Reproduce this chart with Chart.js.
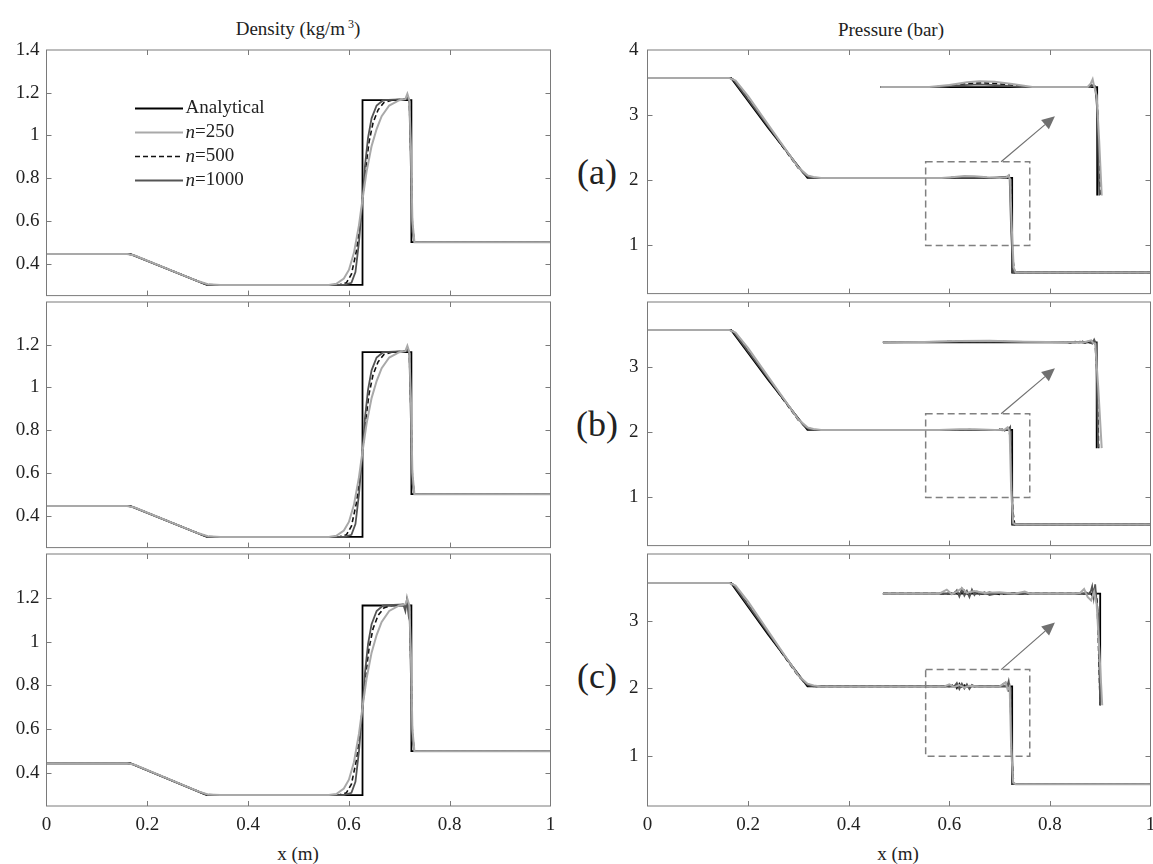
<!DOCTYPE html>
<html>
<head>
<meta charset="utf-8">
<script src="https://cdn.jsdelivr.net/npm/chart.js@4.4.0/dist/chart.umd.min.js"></script>
<style>
  body { margin: 0; background: #fff; width: 1153px; height: 864px; position: relative; overflow: hidden; font-family: "Liberation Serif", "Times New Roman", Times, "DejaVu Serif", serif; color: #222; }
  canvas { position: absolute; }
  .txt { position: absolute; transform: translate(-50%, -50%); white-space: nowrap; font-size: 19px; line-height: 1; }
  .tag { position: absolute; transform: translate(-50%, -50%); font-size: 36px; line-height: 1; }
</style>
</head>
<body>
<div class="txt" style="left:298px;top:28px">Density (kg/m<sup style="font-size:12px"> 3</sup>)</div>
<div class="txt" style="left:891px;top:29px">Pressure (bar)</div>
<div class="tag" style="left:597px;top:172px">(a)</div>
<div class="tag" style="left:597px;top:424px">(b)</div>
<div class="tag" style="left:597px;top:676px">(c)</div>
<div class="txt" style="left:298px;top:853px">x (m)</div>
<div class="txt" style="left:898px;top:853px">x (m)</div>

<canvas id="dA"></canvas>
<canvas id="dB"></canvas>
<canvas id="dC"></canvas>
<canvas id="pA"></canvas>
<canvas id="pB"></canvas>
<canvas id="pC"></canvas>

<script>
// ---- ticks ----
const xTicks = [0, 0.2, 0.4, 0.6, 0.8, 1];
const densTicks = [0.4, 0.6, 0.8, 1, 1.2, 1.4];
const presTicks = [1, 2, 3, 4];
const seriesNames = ['Analytical', 'n=250', 'n=500', 'n=1000'];

// ---- density (kg/m3) ----
const dAnX = [0, 0.166, 0.318, 0.627, 0.627, 0.724, 0.724, 1];
const dAnY = [0.445, 0.445, 0.30, 0.30, 1.165, 1.165, 0.5, 0.5];

const dN250X = [0, 0.16, 0.175, 0.30, 0.32, 0.345, 0.56, 0.575, 0.59, 0.60, 0.61, 0.62, 0.627, 0.635, 0.645, 0.655, 0.665, 0.68, 0.70, 0.712, 0.716, 0.72, 0.723, 0.726, 0.73, 1];
const dN250Y = [0.445, 0.445, 0.438, 0.318, 0.303, 0.30, 0.30, 0.305, 0.33, 0.37, 0.45, 0.58, 0.70, 0.83, 0.95, 1.03, 1.09, 1.14, 1.165, 1.17, 1.195, 1.165, 0.95, 0.6, 0.5, 0.5];
const dN500X = [0, 0.16, 0.172, 0.305, 0.32, 0.34, 0.58, 0.595, 0.605, 0.615, 0.622, 0.627, 0.633, 0.64, 0.648, 0.658, 0.67, 0.685, 0.712, 0.716, 0.72, 0.723, 0.726, 0.73, 1];
const dN500Y = [0.445, 0.445, 0.44, 0.313, 0.302, 0.30, 0.30, 0.31, 0.35, 0.46, 0.58, 0.70, 0.84, 0.97, 1.06, 1.12, 1.155, 1.165, 1.17, 1.185, 1.16, 0.9, 0.58, 0.5, 0.5];
const dN1000X = [0, 0.163, 0.17, 0.31, 0.32, 0.335, 0.59, 0.605, 0.613, 0.62, 0.627, 0.632, 0.638, 0.645, 0.655, 0.668, 0.712, 0.716, 0.72, 0.723, 0.726, 0.73, 1];
const dN1000Y = [0.445, 0.445, 0.441, 0.308, 0.301, 0.30, 0.30, 0.31, 0.36, 0.50, 0.70, 0.86, 0.99, 1.08, 1.14, 1.165, 1.17, 1.18, 1.16, 0.85, 0.55, 0.5, 0.5];
// panel (c) n=1000 is noisier near the shock
const dN1000cX = [0, 0.163, 0.17, 0.31, 0.32, 0.335, 0.59, 0.605, 0.613, 0.62, 0.627, 0.632, 0.638, 0.645, 0.655, 0.668, 0.708, 0.712, 0.715, 0.718, 0.72, 0.723, 0.726, 0.73, 1];
const dN1000cY = [0.445, 0.445, 0.441, 0.308, 0.301, 0.30, 0.30, 0.31, 0.36, 0.50, 0.70, 0.86, 0.99, 1.08, 1.14, 1.165, 1.17, 1.14, 1.19, 1.13, 1.17, 0.85, 0.55, 0.5, 0.5];

// ---- pressure (bar) ----
const pAnX = [0, 0.166, 0.24, 0.318, 0.725, 0.725, 1];
const pAnY = [3.57, 3.57, 2.80, 2.03, 2.03, 0.575, 0.575];

const pN250aX = [0, 0.162, 0.175, 0.20, 0.30, 0.318, 0.33, 0.345, 0.585, 0.61, 0.63, 0.65, 0.675, 0.70, 0.714, 0.718, 0.721, 0.724, 0.728, 0.732, 1];
const pN250aY = [3.57, 3.57, 3.53, 3.29, 2.19, 2.07, 2.045, 2.03, 2.03, 2.045, 2.06, 2.055, 2.04, 2.03, 2.04, 2.07, 2.0, 1.3, 0.65, 0.575, 0.575];
const pN500aX = [0, 0.163, 0.172, 0.30, 0.318, 0.335, 0.59, 0.615, 0.635, 0.655, 0.68, 0.715, 0.719, 0.722, 0.726, 0.73, 1];
const pN500aY = [3.57, 3.57, 3.54, 2.18, 2.06, 2.03, 2.03, 2.04, 2.05, 2.045, 2.03, 2.03, 2.06, 1.9, 0.8, 0.575, 0.575];
const pN1000aX = [0, 0.164, 0.17, 0.31, 0.32, 0.33, 0.6, 0.62, 0.64, 0.66, 0.68, 0.717, 0.72, 0.723, 0.727, 1];
const pN1000aY = [3.57, 3.57, 3.55, 2.1, 2.045, 2.03, 2.03, 2.038, 2.042, 2.037, 2.03, 2.05, 2.02, 1.2, 0.575, 0.575];

const pN250bX = [0, 0.162, 0.175, 0.20, 0.30, 0.318, 0.33, 0.345, 0.58, 0.62, 0.65, 0.69, 0.71, 0.716, 0.72, 0.723, 0.727, 0.732, 1];
const pN250bY = [3.57, 3.57, 3.53, 3.29, 2.19, 2.07, 2.045, 2.03, 2.03, 2.04, 2.04, 2.03, 2.035, 2.07, 2.0, 1.1, 0.6, 0.575, 0.575];
const pN500bX = [0, 0.163, 0.172, 0.30, 0.318, 0.335, 0.6, 0.64, 0.69, 0.70, 0.705, 0.71, 0.715, 0.719, 0.722, 0.726, 0.73, 1];
const pN500bY = [3.57, 3.57, 3.54, 2.18, 2.06, 2.03, 2.03, 2.035, 2.03, 2.04, 2.025, 2.04, 2.03, 2.06, 1.8, 0.8, 0.575, 0.575];
const pN1000bX = [0, 0.164, 0.17, 0.31, 0.32, 0.33, 0.7, 0.705, 0.71, 0.714, 0.718, 0.721, 0.724, 0.727, 1];
const pN1000bY = [3.57, 3.57, 3.55, 2.1, 2.045, 2.03, 2.03, 2.04, 2.02, 2.045, 2.03, 2.07, 1.2, 0.575, 0.575];

const pN250cX = [0, 0.162, 0.175, 0.20, 0.30, 0.318, 0.33, 0.345, 0.59, 0.60, 0.61, 0.62, 0.63, 0.64, 0.66, 0.70, 0.712, 0.716, 0.72, 0.723, 0.727, 0.732, 1];
const pN250cY = [3.57, 3.57, 3.53, 3.29, 2.19, 2.07, 2.045, 2.03, 2.03, 2.06, 2.02, 2.05, 2.01, 2.04, 2.03, 2.03, 2.09, 1.98, 2.03, 1.1, 0.6, 0.575, 0.575];
const pN500cX = [0, 0.163, 0.172, 0.30, 0.318, 0.335, 0.6, 0.61, 0.615, 0.62, 0.625, 0.63, 0.635, 0.64, 0.65, 0.70, 0.714, 0.718, 0.721, 0.724, 0.728, 1];
const pN500cY = [3.57, 3.57, 3.54, 2.18, 2.06, 2.03, 2.03, 2.06, 2.0, 2.07, 2.01, 2.05, 2.02, 2.04, 2.03, 2.03, 2.1, 1.95, 2.05, 1.0, 0.575, 0.575];
const pN1000cX = [0, 0.164, 0.17, 0.31, 0.32, 0.33, 0.61, 0.615, 0.62, 0.625, 0.63, 0.635, 0.64, 0.645, 0.65, 0.715, 0.718, 0.721, 0.724, 0.727, 1];
const pN1000cY = [3.57, 3.57, 3.55, 2.1, 2.045, 2.03, 2.03, 2.08, 1.99, 2.07, 2.0, 2.06, 1.99, 2.05, 2.03, 2.03, 2.11, 1.96, 1.2, 0.575, 0.575];

// ---- zoomed insets (drawn on the pressure axes) ----
const iAnaX = [0.463, 0.894, 0.894];
const iAnaY = [3.43, 3.43, 1.76];
const iN250aX = [0.463, 0.56, 0.60, 0.635, 0.66, 0.69, 0.725, 0.765, 0.875, 0.881, 0.885, 0.888, 0.893, 0.898, 0.903];
const iN250aY = [3.43, 3.43, 3.46, 3.505, 3.52, 3.51, 3.475, 3.43, 3.43, 3.48, 3.55, 3.44, 3.3, 2.6, 1.76];
const iN500aX = [0.463, 0.57, 0.61, 0.64, 0.665, 0.69, 0.72, 0.755, 0.878, 0.885, 0.89, 0.894, 0.9];
const iN500aY = [3.43, 3.43, 3.46, 3.485, 3.495, 3.485, 3.46, 3.43, 3.43, 3.47, 3.43, 3.2, 1.77];
const iN1000aX = [0.463, 0.58, 0.62, 0.66, 0.70, 0.745, 0.88, 0.886, 0.89, 0.895, 0.898];
const iN1000aY = [3.43, 3.43, 3.455, 3.47, 3.455, 3.43, 3.43, 3.46, 3.44, 3.0, 1.76];

const iAnbX = [0.468, 0.893, 0.893];
const iAnbY = [3.38, 3.38, 1.75];
const iN250bX = [0.468, 0.55, 0.62, 0.68, 0.75, 0.84, 0.87, 0.882, 0.886, 0.89, 0.896, 0.903];
const iN250bY = [3.38, 3.385, 3.40, 3.405, 3.39, 3.38, 3.385, 3.41, 3.37, 3.36, 2.7, 1.75];
const iN500bX = [0.468, 0.6, 0.7, 0.82, 0.83, 0.84, 0.85, 0.86, 0.865, 0.87, 0.875, 0.88, 0.885, 0.89, 0.893, 0.897];
const iN500bY = [3.38, 3.39, 3.39, 3.38, 3.39, 3.37, 3.39, 3.375, 3.395, 3.37, 3.4, 3.37, 3.43, 3.36, 3.0, 1.75];
const iN1000bX = [0.468, 0.6, 0.7, 0.85, 0.86, 0.87, 0.878, 0.884, 0.888, 0.892, 0.896];
const iN1000bY = [3.38, 3.39, 3.39, 3.38, 3.39, 3.37, 3.4, 3.36, 3.42, 3.35, 1.76];

const iAncX = [0.468, 0.9, 0.9];
const iAncY = [3.41, 3.41, 1.75];
const iN250cX = [0.468, 0.58, 0.595, 0.605, 0.615, 0.625, 0.635, 0.65, 0.67, 0.70, 0.73, 0.75, 0.76, 0.85, 0.86, 0.868, 0.875, 0.882, 0.888, 0.893, 0.898, 0.904];
const iN250cY = [3.41, 3.41, 3.47, 3.40, 3.44, 3.49, 3.42, 3.45, 3.42, 3.43, 3.41, 3.44, 3.41, 3.41, 3.42, 3.48, 3.36, 3.31, 3.44, 3.25, 2.6, 1.75];
const iN500cX = [0.468, 0.6, 0.61, 0.62, 0.63, 0.64, 0.65, 0.66, 0.68, 0.70, 0.72, 0.74, 0.87, 0.878, 0.884, 0.889, 0.894, 0.9];
const iN500cY = [3.41, 3.41, 3.44, 3.39, 3.46, 3.38, 3.44, 3.40, 3.43, 3.40, 3.42, 3.41, 3.41, 3.45, 3.38, 3.5, 3.3, 1.75];
const iN1000cX = [0.468, 0.61, 0.615, 0.62, 0.625, 0.63, 0.635, 0.64, 0.645, 0.65, 0.655, 0.66, 0.67, 0.68, 0.70, 0.72, 0.88, 0.884, 0.887, 0.89, 0.893, 0.896, 0.9];
const iN1000cY = [3.41, 3.41, 3.46, 3.37, 3.48, 3.38, 3.45, 3.36, 3.47, 3.39, 3.44, 3.40, 3.43, 3.39, 3.42, 3.41, 3.41, 3.52, 3.35, 3.55, 3.28, 3.1, 1.75];

// zoom rectangle and arrow, in pressure axis units
const zoomBoxX = [0.553, 0.76];
const zoomBoxY = [0.99, 2.28];
const arrowX = [0.703, 0.81];
const arrowY = [2.28, 2.98];

// ---- styling ----
const FONT = '"Liberation Serif", "Times New Roman", Times, "DejaVu Serif", serif';
const styleAn = { borderColor: '#000', borderWidth: 1.8 };
const style250 = { borderColor: '#a9a9a9', borderWidth: 2 };
const style500 = { borderColor: '#111', borderWidth: 1.6, borderDash: [5, 3] };
const style1000 = { borderColor: '#555', borderWidth: 1.8 };
const legendStyles = [styleAn, style250, style500, style1000];

const ROW_TOP = 49.5, ROW_H = 252;

function series(xs, ys, style) {
    return Object.assign({
        data: xs.map((x, i) => ({ x: x, y: ys[i] })),
        pointRadius: 0,
        tension: 0,
        fill: false
    }, style);
}

// box + inward ticks on all four sides, like the original figure
const framePlugin = {
    id: 'frame',
    afterDatasetsDraw: function (chart) {
        const ctx = chart.ctx;
        const a = chart.chartArea;
        const xs = chart.scales.x, ys = chart.scales.y;
        ctx.save();
        ctx.strokeStyle = '#7a7a7a';
        ctx.lineWidth = 1;
        ctx.strokeRect(a.left, a.top, a.right - a.left, a.bottom - a.top);
        ctx.beginPath();
        xs.ticks.forEach(t => {
            const px = Math.round(xs.getPixelForValue(t.value)) + 0.5;
            if (px < a.left + 2 || px > a.right - 2) return;
            ctx.moveTo(px, a.top); ctx.lineTo(px, a.top + 5);
            ctx.moveTo(px, a.bottom); ctx.lineTo(px, a.bottom - 5);
        });
        ys.ticks.forEach(t => {
            const py = Math.round(ys.getPixelForValue(t.value)) + 0.5;
            if (py < a.top + 2 || py > a.bottom - 2) return;
            ctx.moveTo(a.left, py); ctx.lineTo(a.left + 5, py);
            ctx.moveTo(a.right, py); ctx.lineTo(a.right - 5, py);
        });
        ctx.stroke();
        ctx.restore();
    }
};

// dashed zoom box and the arrow pointing to the inset
const zoomPlugin = {
    id: 'zoomMark',
    afterDatasetsDraw: function (chart) {
        const ctx = chart.ctx;
        const xs = chart.scales.x, ys = chart.scales.y;
        const x0 = xs.getPixelForValue(zoomBoxX[0]), x1 = xs.getPixelForValue(zoomBoxX[1]);
        const y0 = ys.getPixelForValue(zoomBoxY[0]), y1 = ys.getPixelForValue(zoomBoxY[1]);
        ctx.save();
        ctx.strokeStyle = '#808080';
        ctx.lineWidth = 1.5;
        ctx.setLineDash([7, 4]);
        ctx.strokeRect(x0, y1, x1 - x0, y0 - y1);
        ctx.setLineDash([]);
        const ax = xs.getPixelForValue(arrowX[0]), ay = ys.getPixelForValue(arrowY[0]);
        const bx = xs.getPixelForValue(arrowX[1]), by = ys.getPixelForValue(arrowY[1]);
        const ang = Math.atan2(by - ay, bx - ax);
        const L = 13, W = 6;
        const hx = bx - L * Math.cos(ang), hy = by - L * Math.sin(ang);
        ctx.lineWidth = 1.2;
        ctx.strokeStyle = '#707070';
        ctx.beginPath(); ctx.moveTo(ax, ay); ctx.lineTo(hx, hy); ctx.stroke();
        ctx.fillStyle = '#707070';
        ctx.beginPath();
        ctx.moveTo(bx, by);
        ctx.lineTo(hx + W * Math.sin(ang), hy - W * Math.cos(ang));
        ctx.lineTo(hx - W * Math.sin(ang), hy + W * Math.cos(ang));
        ctx.closePath(); ctx.fill();
        ctx.restore();
    }
};

// legend inside the top density panel
const legendPlugin = {
    id: 'legendInside',
    afterDraw: function (chart) {
        const ctx = chart.ctx;
        const a = chart.chartArea;
        ctx.save();
        ctx.textBaseline = 'middle';
        seriesNames.forEach((name, i) => {
            const st = legendStyles[i];
            const y = a.top + 58.5 + i * 24;
            ctx.strokeStyle = st.borderColor;
            ctx.lineWidth = st.borderWidth;
            ctx.setLineDash(st.borderDash || []);
            ctx.beginPath();
            ctx.moveTo(a.left + 88.5, y); ctx.lineTo(a.left + 136.5, y);
            ctx.stroke();
            ctx.setLineDash([]);
            ctx.fillStyle = '#222';
            let x = a.left + 139;
            if (name.startsWith('n=')) {
                ctx.font = 'italic 19px ' + FONT;
                ctx.fillText('n', x, y);
                x += ctx.measureText('n').width;
                ctx.font = '19px ' + FONT;
                ctx.fillText(name.slice(1), x, y);
            } else {
                ctx.font = '19px ' + FONT;
                ctx.fillText(name, x, y);
            }
        });
        ctx.restore();
    }
};

function makePanel(id, col, row, datasets, yTicks, yMin, yMax, extra) {
    const cv = document.getElementById(id);
    const isBottom = row === 2;
    const padTop = 22;
    const bottomH = isBottom ? 60 : 12;
    const cLeft = col === 0 ? 0 : 600;
    const cW = col === 0 ? 600 : 580;
    const plotL = col === 0 ? 46.5 : 647.5;
    const plotR = col === 0 ? 550.5 : 1150.5;
    const top = ROW_TOP + row * ROW_H;
    cv.width = cW;
    cv.height = padTop + ROW_H + bottomH;
    cv.style.left = cLeft + 'px';
    cv.style.top = (top - padTop) + 'px';
    const yW = plotL - cLeft;
    const padRight = cW - (plotR - cLeft);
    const tickFont = { family: FONT, size: 19 };

    return new Chart(cv.getContext('2d'), {
        type: 'line',
        data: { datasets: datasets },
        options: {
            responsive: false,
            animation: false,
            devicePixelRatio: 1,
            events: [],
            layout: { padding: { top: padTop, right: padRight, bottom: 0, left: 0 } },
            plugins: { legend: { display: false }, tooltip: { enabled: false } },
            scales: {
                x: {
                    type: 'linear', min: 0, max: 1,
                    grid: { display: false, drawTicks: false },
                    border: { display: false },
                    afterBuildTicks: s => { s.ticks = xTicks.map(v => ({ value: v })); },
                    afterFit: s => { s.height = bottomH; },
                    ticks: {
                        display: isBottom, padding: 8, font: tickFont, color: '#222',
                        autoSkip: false, maxRotation: 0,
                        callback: v => String(v)
                    }
                },
                y: {
                    type: 'linear', min: yMin, max: yMax,
                    grid: { display: false, drawTicks: false },
                    border: { display: false },
                    afterBuildTicks: s => { s.ticks = yTicks.map(v => ({ value: v })); },
                    afterFit: s => { s.width = yW; },
                    ticks: {
                        padding: col === 0 ? 7 : 9, font: tickFont, color: '#222',
                        autoSkip: false,
                        // top label only on the first row, the others share the border
                        callback: v => (row > 0 && v === yMax) ? '' : String(v)
                    }
                }
            }
        },
        plugins: [framePlugin].concat(extra || [])
    });
}

// dataset order: first one is drawn on top
function densSet(n1000x, n1000y) {
    return [
        series(dN250X, dN250Y, style250),
        series(n1000x, n1000y, style1000),
        series(dN500X, dN500Y, style500),
        series(dAnX, dAnY, styleAn)
    ];
}

function presSet(m, ins) {
    return [
        series(m[0], m[1], style250),
        series(m[4], m[5], style1000),
        series(m[2], m[3], style500),
        series(pAnX, pAnY, styleAn),
        series(ins[2], ins[3], style250),
        series(ins[6], ins[7], style1000),
        series(ins[4], ins[5], style500),
        series(ins[0], ins[1], styleAn)
    ];
}

makePanel('dA', 0, 0, densSet(dN1000X, dN1000Y), densTicks, 0.25, 1.4, [legendPlugin]);
makePanel('dB', 0, 1, densSet(dN1000X, dN1000Y), densTicks, 0.25, 1.4);
makePanel('dC', 0, 2, densSet(dN1000cX, dN1000cY), densTicks, 0.25, 1.4);

makePanel('pA', 1, 0, presSet(
    [pN250aX, pN250aY, pN500aX, pN500aY, pN1000aX, pN1000aY],
    [iAnaX, iAnaY, iN250aX, iN250aY, iN500aX, iN500aY, iN1000aX, iN1000aY]
), presTicks, 0.25, 4, [zoomPlugin]);
makePanel('pB', 1, 1, presSet(
    [pN250bX, pN250bY, pN500bX, pN500bY, pN1000bX, pN1000bY],
    [iAnbX, iAnbY, iN250bX, iN250bY, iN500bX, iN500bY, iN1000bX, iN1000bY]
), presTicks, 0.25, 4, [zoomPlugin]);
makePanel('pC', 1, 2, presSet(
    [pN250cX, pN250cY, pN500cX, pN500cY, pN1000cX, pN1000cY],
    [iAncX, iAncY, iN250cX, iN250cY, iN500cX, iN500cY, iN1000cX, iN1000cY]
), presTicks, 0.25, 4, [zoomPlugin]);
</script>
</body>
</html>
